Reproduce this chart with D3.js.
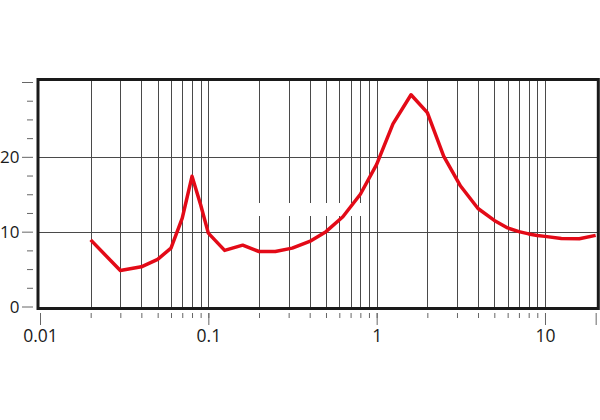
<!DOCTYPE html>
<html>
<head>
<meta charset="utf-8">
<script src="https://cdn.jsdelivr.net/npm/d3@7/dist/d3.min.js"></script>
<style>
  html, body { margin: 0; padding: 0; background: #fff; }
  svg { display: block; }
  text { font-family: "Open Sans", "DejaVu Sans", sans-serif; fill: #1a1a1a; }
</style>
</head>
<body>
<svg id="chart" width="600" height="420"></svg>
<script>
// Data
const freq = [0.02, 0.03, 0.04, 0.05, 0.06, 0.07, 0.08, 0.09, 0.1, 0.125, 0.16, 0.2, 0.25, 0.315, 0.4, 0.5, 0.63, 0.8, 1.0, 1.25, 1.6, 2.0, 2.5, 3.15, 4, 5, 6, 7, 8, 9, 10, 12.5, 16, 20];
const value = [8.9, 4.8, 5.3, 6.3, 7.8, 11.8, 17.4, 13.6, 9.8, 7.5, 8.2, 7.35, 7.35, 7.8, 8.7, 10.0, 12.0, 15.0, 19.0, 24.4, 28.3, 25.9, 20.1, 16.1, 13.1, 11.5, 10.5, 10.0, 9.7, 9.5, 9.37, 9.1, 9.05, 9.5];
const xGrid = [0.02, 0.03, 0.04, 0.05, 0.06, 0.07, 0.08, 0.09, 0.1, 0.2, 0.3, 0.4, 0.5, 0.6, 0.7, 0.8, 0.9, 1, 2, 3, 4, 5, 6, 7, 8, 9, 10];
const xMajorTicks = [0.01, 0.1, 1, 10, 20];
const xLabels = ["0.01", "0.1", "1", "10", ""];
const yGrid = [10, 20];
const yMajorTicks = [0, 10, 20, 30];
const yLabels = ["0", "10", "20", ""];
const yMinorTicks = [2.5, 5, 7.5, 12.5, 15, 17.5, 22.5, 25, 27.5];

const svg = d3.select("#chart");

const x = d3.scaleLog().domain([0.01, 20]).range([40, 40 + 168.33 * Math.log10(2000)]);
const y = d3.scaleLinear().domain([0, 30]).range([306.5, 82]);

const plotTop = 81, plotBottom = 307;

// gridlines
svg.append("g").selectAll("line").data(xGrid).join("line")
  .attr("x1", d => Math.round(x(d)) + 0.5).attr("x2", d => Math.round(x(d)) + 0.5)
  .attr("y1", plotTop).attr("y2", plotBottom)
  .attr("stroke", "#4a4a4a").attr("stroke-width", 1);
svg.append("g").selectAll("line").data(yGrid).join("line")
  .attr("x1", 39).attr("x2", 597)
  .attr("y1", d => Math.round(y(d)) + 0.5).attr("y2", d => Math.round(y(d)) + 0.5)
  .attr("stroke", "#4a4a4a").attr("stroke-width", 1);

// white patch seen in the reference
svg.append("rect").attr("x", 255).attr("y", 203).attr("width", 110).attr("height", 13).attr("fill", "#fff");

// x axes
const xMinorAxis = d3.axisBottom(x).tickValues(xGrid).tickSize(5).tickFormat("");
const gxm = svg.append("g").attr("transform", "translate(0,313)").call(xMinorAxis);
const xMajorAxis = d3.axisBottom(x).tickValues(xMajorTicks).tickSize(12).tickFormat((d, i) => xLabels[i]);
const gxM = svg.append("g").attr("transform", "translate(0,313)").call(xMajorAxis);
[gxm, gxM].forEach(g => {
  g.select(".domain").remove();
  g.selectAll(".tick line").attr("stroke", "#666");
});
gxM.selectAll(".tick text").attr("y", 28.8).attr("dy", 0)
  .style("font-size", "17.5px").attr("fill", "#1a1a1a");

// y axes
const yMinorAxis = d3.axisLeft(y).tickValues(yMinorTicks).tickSize(6).tickFormat("");
const gym = svg.append("g").attr("transform", "translate(33,0)").call(yMinorAxis);
const yMajorAxis = d3.axisLeft(y).tickValues(yMajorTicks).tickSize(11).tickPadding(2.5).tickFormat((d, i) => yLabels[i]);
const gyM = svg.append("g").attr("transform", "translate(33,0)").call(yMajorAxis);
[gym, gyM].forEach(g => {
  g.select(".domain").remove();
  g.selectAll(".tick line").attr("stroke", "#666");
});
gyM.selectAll(".tick text").style("font-size", "17px").attr("dy", "0.35em").attr("fill", "#1a1a1a");

// data line
const line = d3.line().x((d, i) => x(freq[i])).y(d => y(d));
svg.append("path").datum(value)
  .attr("d", line)
  .attr("fill", "none")
  .attr("stroke", "#e30a17")
  .attr("stroke-width", 3.5)
  .attr("stroke-linejoin", "round");

// frame
svg.append("rect").attr("x", 38).attr("y", 79.5).attr("width", 560.3).attr("height", 229)
  .attr("fill", "none").attr("stroke", "#1a1a1a").attr("stroke-width", 3);
</script>
</body>
</html>
